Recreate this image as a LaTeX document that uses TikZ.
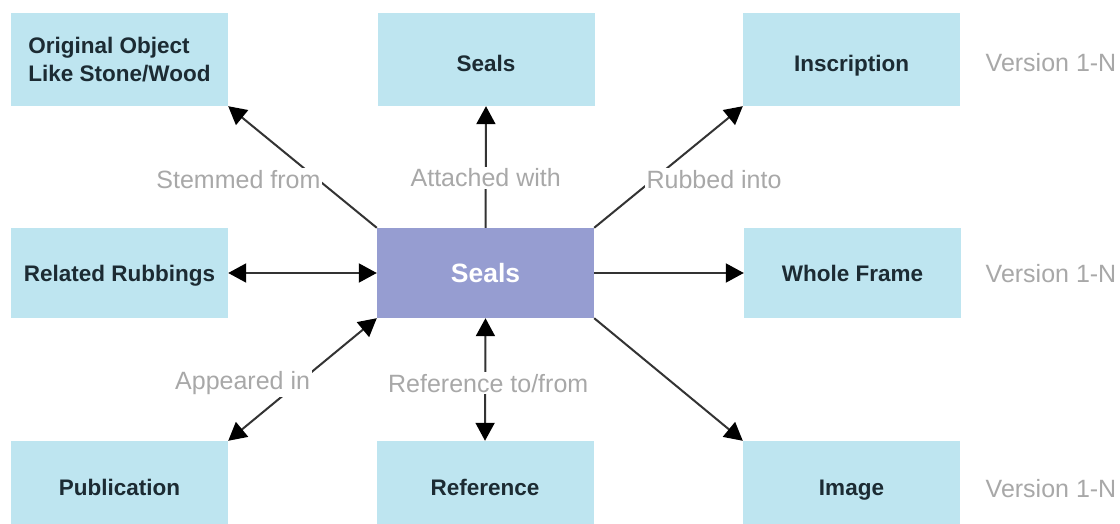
\documentclass[tikz,border=0pt]{standalone}
\usepackage{fontspec}
\setmainfont{Liberation Sans}
\usetikzlibrary{arrows.meta}
\definecolor{boxblue}{HTML}{BEE5F0}
\definecolor{boxpurple}{HTML}{969DD1}
\definecolor{labelgray}{HTML}{A8A8A8}
\definecolor{linegray}{HTML}{333333}
\definecolor{boxtext}{HTML}{1C2B33}
\begin{document}
\begin{tikzpicture}[x=1pt,y=-1pt,
  entity/.style={fill=boxblue, draw=none, minimum width=217pt, minimum height=92pt,
    inner sep=0pt, font=\fontsize{22.5}{28}\selectfont\bfseries, text=boxtext, align=left},
  hub/.style={entity, fill=boxpurple, text=white, font=\fontsize{26.5}{30}\selectfont\bfseries},
  toprow/.style={text height=25pt, text depth=1pt},
  midrow/.style={text height=17pt, text depth=1pt},
  hubrow/.style={text height=19pt, text depth=1pt},
  botrow/.style={text height=21pt, text depth=1pt},
  rel/.style={font=\fontsize{25}{28}\selectfont, text=labelgray, fill=white, inner sep=2pt},
  ver/.style={font=\fontsize{25}{28}\selectfont, text=labelgray},
  tip/.tip={Triangle[length=18pt,width=19pt,color=black]},
  link/.style={draw=linegray, line width=2pt, -tip},
  dlink/.style={draw=linegray, line width=2pt, tip-tip},
]
\clip (0,0) rectangle (1120,524);
\fill[white] (0,0) rectangle (1120,524);

\node[entity, minimum height=93pt] (tl) at (119.5,59.5) {Original Object\\Like Stone/Wood};
\node[entity, toprow, minimum height=93pt] (tm) at (486,59.5) {Seals};
\node[entity, toprow, minimum height=93pt] (tr) at (851.5,59.5) {Inscription};
\node[entity, midrow, minimum height=90pt] (ml) at (119.5,273) {Related Rubbings};
\node[hub, hubrow, minimum height=90pt] (c) at (485.5,273) {Seals};
\node[entity, midrow, minimum height=90pt] (mr) at (852.5,273) {Whole Frame};
\node[entity, botrow, minimum height=89pt] (bl) at (119.5,485.5) {Publication};
\node[entity, botrow, minimum height=89pt] (bm) at (485,485.5) {Reference};
\node[entity, botrow, minimum height=89pt] (br) at (851.5,485.5) {Image};

\node[ver] (v1) at (1051,63) {Version 1-N};
\node[ver] (v2) at (1051,274) {Version 1-N};
\node[ver] (v3) at (1051,489) {Version 1-N};

\draw[link] (c.north west) -- node[rel, pos=0.4, anchor=east, xshift=6pt] {Stemmed from} (tl.south east);
\draw[link] (c.north) -- node[rel, pos=0.41] {Attached with} (tm.south);
\draw[link] (c.north east) -- node[rel, pos=0.4, anchor=west, xshift=-10pt] {Rubbed into} (tr.south west);
\draw[dlink] (ml.east) -- (c.west);
\draw[link] (c.east) -- (mr.west);
\draw[dlink] (c.south west) -- node[rel, pos=0.53, anchor=east, xshift=15pt] {Appeared in} (bl.north east);
\draw[dlink] (c.south) -- node[rel, pos=0.53, xshift=3pt] {Reference to/from} (bm.north);
\draw[link] (c.south east) -- (br.north west);
\end{tikzpicture}
\end{document}
